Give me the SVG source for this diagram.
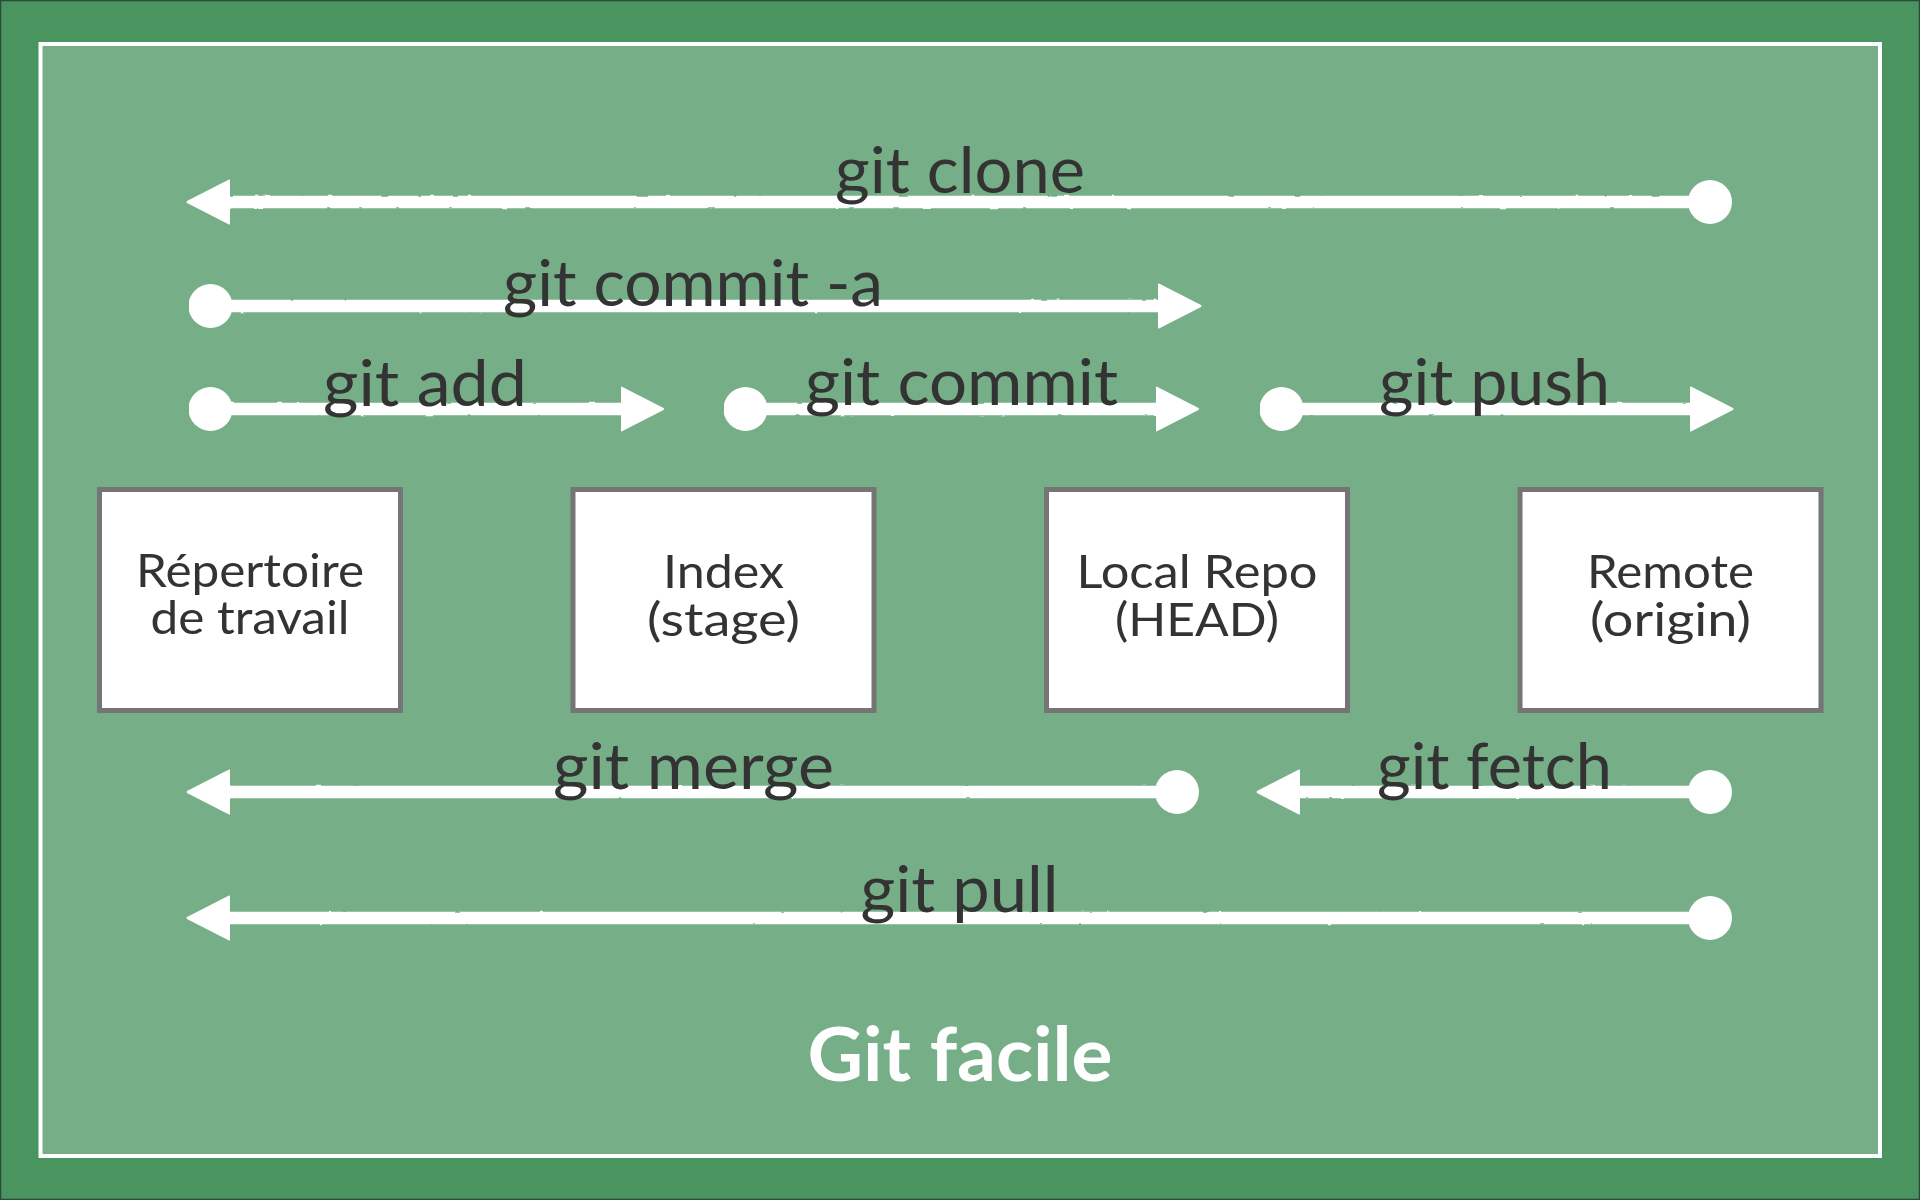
<svg xmlns="http://www.w3.org/2000/svg" width="1920" height="1200" viewBox="0 0 1920 1200">
  <style>
    .box { fill: #ffffff; stroke: #757575; stroke-width: 5; }
    .btxt { font-family: Lato, "Open Sans", sans-serif; font-size: 47px; fill: #333333; text-anchor: middle; }
    .lbl { font-family: Lato, "Open Sans", sans-serif; font-size: 64px; fill: #333333; text-anchor: middle; }
    .conn { fill: none; stroke: #ffffff; stroke-width: 12.5; stroke-linecap: butt; filter: url(#rough); }
    .ends { fill: none; stroke: none; }
    .title { font-family: Lato, "Open Sans", sans-serif; font-weight: bold; font-size: 74px; fill: #ffffff; text-anchor: middle; }
  </style>
  <defs>
    <filter id="rough" filterUnits="userSpaceOnUse" x="0" y="0" width="1920" height="1200">
      <feTurbulence type="fractalNoise" baseFrequency="0.08" numOctaves="2" seed="3" result="n"/>
      <feDisplacementMap in="SourceGraphic" in2="n" scale="2.2" xChannelSelector="R" yChannelSelector="G"/>
    </filter>
    <marker id="arrow" viewBox="0 0 44 46" refX="3" refY="23" markerWidth="44" markerHeight="46" markerUnits="userSpaceOnUse" orient="auto">
      <path d="M0,1 Q0,0 1.5,0.7 L43,22 Q44,23 43,24 L1.5,45.3 Q0,46 0,45 Z" fill="#ffffff"/>
    </marker>
    <marker id="dot" viewBox="0 0 44 44" refX="22" refY="22" markerWidth="44" markerHeight="44" markerUnits="userSpaceOnUse" orient="auto">
      <circle cx="22" cy="22" r="22" fill="#ffffff"/>
    </marker>
  </defs>

  <rect x="0" y="0" width="1920" height="1200" fill="#4a955f"/>
  <rect x="0.5" y="0.5" width="1919" height="1199" fill="none" stroke="#2b4a35" stroke-width="1.5"/>
  <rect x="40.5" y="44" width="1839.5" height="1112" fill="#76af87" stroke="#ffffff" stroke-width="4"/>

  <g id="connectors">
    <path class="conn" d="M1710,202 L227,202"/>
    <path class="ends" d="M1710,202 L227,202" marker-start="url(#dot)" marker-end="url(#arrow)"/>
    <path class="conn" d="M210.5,306 L1161,306"/>
    <path class="ends" d="M210.5,306 L1161,306" marker-start="url(#dot)" marker-end="url(#arrow)"/>
    <path class="conn" d="M210.5,409 L623.5,409"/>
    <path class="ends" d="M210.5,409 L623.5,409" marker-start="url(#dot)" marker-end="url(#arrow)"/>
    <path class="conn" d="M745.5,409 L1158.5,409"/>
    <path class="ends" d="M745.5,409 L1158.5,409" marker-start="url(#dot)" marker-end="url(#arrow)"/>
    <path class="conn" d="M1281.5,409 L1693,409"/>
    <path class="ends" d="M1281.5,409 L1693,409" marker-start="url(#dot)" marker-end="url(#arrow)"/>
    <path class="conn" d="M1177,792 L227,792"/>
    <path class="ends" d="M1177,792 L227,792" marker-start="url(#dot)" marker-end="url(#arrow)"/>
    <path class="conn" d="M1710,792 L1297,792"/>
    <path class="ends" d="M1710,792 L1297,792" marker-start="url(#dot)" marker-end="url(#arrow)"/>
    <path class="conn" d="M1710,918 L227,918"/>
    <path class="ends" d="M1710,918 L227,918" marker-start="url(#dot)" marker-end="url(#arrow)"/>
  </g>

  <g id="labels">
    <text class="lbl" x="960" y="193" textLength="250" lengthAdjust="spacingAndGlyphs">git clone</text>
    <text class="lbl" x="693" y="306" textLength="380" lengthAdjust="spacingAndGlyphs">git commit -a</text>
    <text class="lbl" x="425" y="406" textLength="204" lengthAdjust="spacingAndGlyphs">git add</text>
    <text class="lbl" x="961.5" y="405" textLength="313" lengthAdjust="spacingAndGlyphs">git commit</text>
    <text class="lbl" x="1494.5" y="405" textLength="231" lengthAdjust="spacingAndGlyphs">git push</text>
    <text class="lbl" x="693.5" y="789" textLength="281" lengthAdjust="spacingAndGlyphs">git merge</text>
    <text class="lbl" x="1494.5" y="788.5" textLength="235" lengthAdjust="spacingAndGlyphs">git fetch</text>
    <text class="lbl" x="959.5" y="911.5" textLength="198" lengthAdjust="spacingAndGlyphs">git pull</text>
  </g>

  <g id="node-repertoire">
    <rect class="box" x="99.5" y="489.5" width="301" height="221"/>
    <text class="btxt" x="250" y="587" textLength="228" lengthAdjust="spacingAndGlyphs">Répertoire</text>
    <text class="btxt" x="250" y="634" textLength="199" lengthAdjust="spacingAndGlyphs">de travail</text>
  </g>
  <g id="node-index">
    <rect class="box" x="573" y="489.5" width="301" height="221"/>
    <text class="btxt" x="723.5" y="588" textLength="121" lengthAdjust="spacingAndGlyphs">Index</text>
    <text class="btxt" x="723.5" y="635.5" textLength="153" lengthAdjust="spacingAndGlyphs">(stage)</text>
  </g>
  <g id="node-local">
    <rect class="box" x="1046.5" y="489.5" width="301" height="221"/>
    <text class="btxt" x="1197" y="588" textLength="241" lengthAdjust="spacingAndGlyphs">Local Repo</text>
    <text class="btxt" x="1197" y="636" textLength="164" lengthAdjust="spacingAndGlyphs">(HEAD)</text>
  </g>
  <g id="node-remote">
    <rect class="box" x="1520" y="489.5" width="301" height="221"/>
    <text class="btxt" x="1670.5" y="588" textLength="167" lengthAdjust="spacingAndGlyphs">Remote</text>
    <text class="btxt" x="1670.5" y="636" textLength="161" lengthAdjust="spacingAndGlyphs">(origin)</text>
  </g>

  <g id="title">
    <text class="title" x="960" y="1081" textLength="305" lengthAdjust="spacingAndGlyphs">Git facile</text>
  </g>
</svg>
